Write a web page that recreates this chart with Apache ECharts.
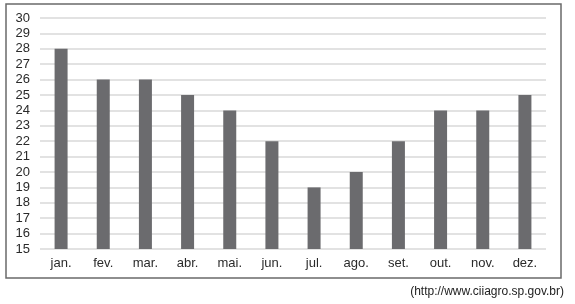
<!DOCTYPE html>
<html><head><meta charset="utf-8">
<script src="https://cdn.jsdelivr.net/npm/echarts@6/dist/echarts.min.js"></script>
<style>html,body{margin:0;padding:0;background:#fff}#c{width:575px;height:304px}</style>
</head><body><div id="c"></div>
<script>
const categories = ['jan.','fev.','mar.','abr.','mai.','jun.','jul.','ago.','set.','out.','nov.','dez.'];
const values = [28,26,26,25,24,22,19,20,22,24,24,25];
const yMin = 15, yMax = 30, yStep = 1;
const sourceText = '(http://www.ciiagro.sp.gov.br)';

const chart = echarts.init(document.getElementById('c'), null, {renderer:'canvas'});
chart.setOption({
  animation:false,
  backgroundColor:'#fff',
  grid:{left:40,right:29,top:18,bottom:55,containLabel:false},
  xAxis:{type:'category',data:categories,
    axisLine:{show:false},axisTick:{show:false},
    axisLabel:{color:'#2a2a2a',fontFamily:'Liberation Sans',fontSize:13,margin:8}},
  yAxis:{type:'value',min:yMin,max:yMax,interval:yStep,
    axisLine:{show:false},axisTick:{show:false},
    axisLabel:{color:'#2a2a2a',fontFamily:'Liberation Sans',fontSize:13,margin:10},
    splitLine:{lineStyle:{color:'#e2e2e2',width:2}}},
  series:[{type:'bar',data:values,barWidth:13,itemStyle:{color:'#6b6b6e'}}],
  graphic:[
    {type:'rect',shape:{x:6,y:4,width:555,height:274},style:{fill:'none',stroke:'#6a6a6a',lineWidth:1.5},silent:true,z:-1},
    {type:'text',right:11,top:286,style:{text:sourceText,fill:'#222',font:'12px Liberation Sans'}}
  ]
});
</script></body></html>
